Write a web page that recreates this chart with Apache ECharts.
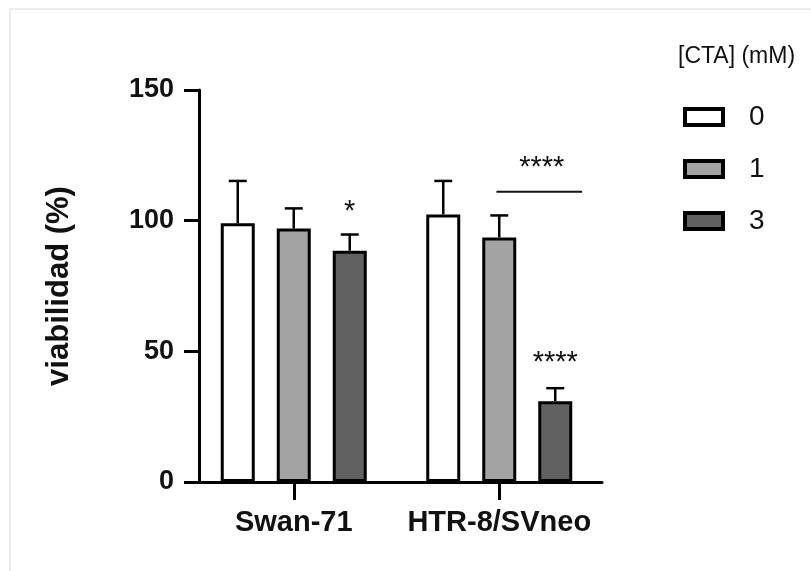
<!DOCTYPE html>
<html>
<head>
<meta charset="utf-8">
<script src="https://cdn.jsdelivr.net/npm/echarts@6/dist/echarts.min.js"></script>
<style>
html,body{margin:0;padding:0;background:#fff;}
#chart{width:811px;height:571px;}
</style>
</head>
<body>
<div id="chart"></div>
<script>
// ---- data ----
const categories = ['Swan-71', 'HTR-8/SVneo'];
const doseNames = ['0', '1', '3'];
const meanDose0 = [99.0, 102.4];
const meanDose1 = [97.0, 93.6];
const meanDose3 = [88.5, 30.9];
const sdDose0 = [16.2, 12.8];
const sdDose1 = [7.7, 8.4];
const sdDose3 = [6.2, 5.0];
const yTicks = [0, 50, 100, 150];
const legendTitle = '[CTA] (mM)';
const yTitle = 'viabilidad (%)';
// significance marks: category index, bar slot, y value (data units), text
const sigMarkCat = [0, 1, 1];
const sigMarkSlot = [2, 2, 1.76];
const sigMarkValue = [103.4, 45.5, 120.2];
const sigMarkText = ['*', '****', '****'];
// significance line: category index, slot range, y value
const sigLineCat = [1];
const sigLineFrom = [0.95];
const sigLineTo = [2.48];
const sigLineValue = [111.1];

// ---- style ----
const fills = ['#ffffff', '#a3a3a3', '#616161'];
const BAR_W = 34, BAR_GAP = 22;
const FONT = 'Liberation Sans, Arial, sans-serif';

const means = [meanDose0, meanDose1, meanDose3];
const sds = [sdDose0, sdDose1, sdDose3];

const chart = echarts.init(document.getElementById('chart'), null, {renderer: 'canvas'});

const series = [];
doseNames.forEach((name, k) => {
  series.push({
    type: 'bar', name: name,
    data: means[k],
    barWidth: BAR_W, barGap: (BAR_GAP / BAR_W * 100) + '%',
    itemStyle: {color: fills[k], borderColor: '#000', borderWidth: 3},
    emphasis: {disabled: true},
    z: 2
  });
});
doseNames.forEach((name, k) => {
  series.push({
    type: 'custom', name: 'err' + name,
    data: means[k].map((m, i) => [i, m, m + sds[k][i]]),
    clip: false, z: 1,
    renderItem: function (params, api) {
      const c = api.value(0);
      const base = api.coord([c, api.value(1)]);
      const top = api.coord([c, api.value(2)]);
      const x = base[0] + (k - 1) * (BAR_W + BAR_GAP);
      return {
        type: 'group',
        children: [
          {type: 'line', shape: {x1: x, y1: base[1], x2: x, y2: top[1]}, style: {stroke: '#000', lineWidth: 2.5}},
          {type: 'line', shape: {x1: x - 9, y1: top[1], x2: x + 9, y2: top[1]}, style: {stroke: '#000', lineWidth: 2.5}}
        ]
      };
    }
  });
});
series.push({
  type: 'custom', name: 'sigText',
  data: sigMarkCat.map((c, i) => [c, sigMarkValue[i], sigMarkSlot[i], i]),
  clip: false, z: 5,
  renderItem: function (params, api) {
    const p = api.coord([api.value(0), api.value(1)]);
    const x = p[0] + (api.value(2) - 1) * (BAR_W + BAR_GAP);
    return {
      type: 'text', x: x, y: p[1],
      style: {text: sigMarkText[api.value(3)], fill: '#111', font: '29px ' + FONT, align: 'center', verticalAlign: 'middle'}
    };
  }
});
series.push({
  type: 'custom', name: 'sigLine',
  data: sigLineCat.map((c, i) => [c, sigLineValue[i], sigLineFrom[i], sigLineTo[i]]),
  clip: false, z: 5,
  renderItem: function (params, api) {
    const p = api.coord([api.value(0), api.value(1)]);
    const x1 = p[0] + (api.value(2) - 1) * (BAR_W + BAR_GAP);
    const x2 = p[0] + (api.value(3) - 1) * (BAR_W + BAR_GAP);
    return {type: 'line', shape: {x1: x1, y1: p[1], x2: x2, y2: p[1]}, style: {stroke: '#111', lineWidth: 2}};
  }
});

const option = {
  backgroundColor: '#ffffff',
  animation: false,
  textStyle: {fontFamily: FONT},
  title: {
    text: legendTitle, left: 673, top: 40,
    textStyle: {fontSize: 23, fontWeight: 'normal', color: '#111', fontFamily: FONT}
  },
  legend: {
    data: doseNames, orient: 'vertical', left: 683, top: 103, padding: 0,
    itemWidth: 38, itemHeight: 16, itemGap: 24, icon: 'rect',
    itemStyle: {borderWidth: 4, borderColor: '#000'},
    textStyle: {fontSize: 28, color: '#111', fontFamily: FONT, padding: [0, 0, 0, 21]},
    selectedMode: false
  },
  grid: {left: 191, right: 209, top: 90, bottom: 89, containLabel: false},
  xAxis: {
    type: 'category', data: categories,
    axisLine: {show: true, lineStyle: {color: '#000', width: 3}},
    axisTick: {show: true, alignWithLabel: true, interval: 0, length: 18, lineStyle: {color: '#000', width: 3}},
    axisLabel: {interval: 0, hideOverlap: false, fontSize: 29, fontWeight: 'bold', color: '#111', margin: 26, fontFamily: FONT}
  },
  yAxis: {
    type: 'value', min: yTicks[0], max: yTicks[yTicks.length - 1], interval: yTicks[1] - yTicks[0],
    offset: -8,
    name: yTitle, nameLocation: 'middle', nameGap: 124,
    nameTextStyle: {fontSize: 31, fontWeight: 'bold', color: '#111', fontFamily: FONT},
    axisLine: {show: true, lineStyle: {color: '#000', width: 3}},
    axisTick: {show: true, length: 15, lineStyle: {color: '#000', width: 3}},
    axisLabel: {fontSize: 27, fontWeight: 'bold', color: '#111', margin: 25, fontFamily: FONT},
    splitLine: {show: false}
  },
  graphic: [
    {type: 'line', shape: {x1: 10, y1: 9, x2: 811, y2: 9}, style: {stroke: '#ececec', lineWidth: 2}},
    {type: 'line', shape: {x1: 10, y1: 9, x2: 10, y2: 571}, style: {stroke: '#ececec', lineWidth: 2}}
  ],
  series: series
};
chart.setOption(option);
</script>
</body>
</html>
